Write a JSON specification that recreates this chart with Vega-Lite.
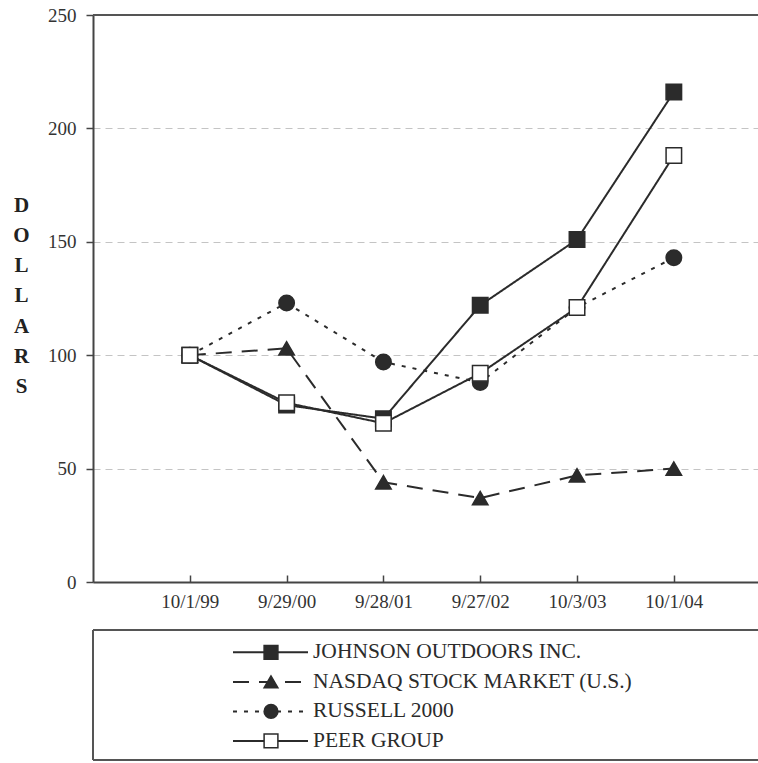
{
  "$schema": "https://vega.github.io/schema/vega-lite/v6.json",
  "padding": {"left": 12, "top": 6, "right": 0, "bottom": 0},
  "background": "white",
  "spacing": 17,
  "config": {"view": {"stroke": null}, "font": "Liberation Serif"},
  "datasets": {
    "returns": [
      {"series": "JOHNSON OUTDOORS INC.", "date": "10/1/99", "value": 100},
      {"series": "JOHNSON OUTDOORS INC.", "date": "9/29/00", "value": 78},
      {"series": "JOHNSON OUTDOORS INC.", "date": "9/28/01", "value": 72},
      {"series": "JOHNSON OUTDOORS INC.", "date": "9/27/02", "value": 122},
      {"series": "JOHNSON OUTDOORS INC.", "date": "10/3/03", "value": 151},
      {"series": "JOHNSON OUTDOORS INC.", "date": "10/1/04", "value": 216},
      {"series": "NASDAQ STOCK MARKET (U.S.)", "date": "10/1/99", "value": 100},
      {"series": "NASDAQ STOCK MARKET (U.S.)", "date": "9/29/00", "value": 103},
      {"series": "NASDAQ STOCK MARKET (U.S.)", "date": "9/28/01", "value": 44},
      {"series": "NASDAQ STOCK MARKET (U.S.)", "date": "9/27/02", "value": 37},
      {"series": "NASDAQ STOCK MARKET (U.S.)", "date": "10/3/03", "value": 47},
      {"series": "NASDAQ STOCK MARKET (U.S.)", "date": "10/1/04", "value": 50},
      {"series": "RUSSELL 2000", "date": "10/1/99", "value": 100},
      {"series": "RUSSELL 2000", "date": "9/29/00", "value": 123},
      {"series": "RUSSELL 2000", "date": "9/28/01", "value": 97},
      {"series": "RUSSELL 2000", "date": "9/27/02", "value": 88},
      {"series": "RUSSELL 2000", "date": "10/3/03", "value": 121},
      {"series": "RUSSELL 2000", "date": "10/1/04", "value": 143},
      {"series": "PEER GROUP", "date": "10/1/99", "value": 100},
      {"series": "PEER GROUP", "date": "9/29/00", "value": 79},
      {"series": "PEER GROUP", "date": "9/28/01", "value": 70},
      {"series": "PEER GROUP", "date": "9/27/02", "value": 92},
      {"series": "PEER GROUP", "date": "10/3/03", "value": 121},
      {"series": "PEER GROUP", "date": "10/1/04", "value": 188}
    ],
    "series": [
      {"series": "JOHNSON OUTDOORS INC."},
      {"series": "NASDAQ STOCK MARKET (U.S.)"},
      {"series": "RUSSELL 2000"},
      {"series": "PEER GROUP"}
    ]
  },
  "vconcat": [
    {
      "width": 666,
      "height": 567,
      "data": {"name": "returns"},
      "layer": [
        {
          "mark": {"type": "rule", "color": "#555555", "strokeWidth": 2},
          "encoding": {
            "y": {"datum": 250, "type": "quantitative", "scale": {"domain": [0, 250], "nice": false}}
          }
        },
        {
          "mark": {"type": "line", "color": "#2b2b2b", "strokeWidth": 2},
          "encoding": {
            "x": {
              "field": "date", "type": "ordinal", "sort": null,
              "scale": {"type": "point", "padding": 0.94, "align": 0.532},
              "axis": {
                "title": null, "labelAngle": 0, "labelFont": "Liberation Serif", "labelFontSize": 19,
                "labelColor": "#333333", "labelPadding": 17.5, "tickSize": -7, "tickColor": "#444444",
                "tickWidth": 1.5, "domainColor": "#444444", "domainWidth": 2, "grid": false
              }
            },
            "y": {
              "field": "value", "type": "quantitative",
              "scale": {"domain": [0, 250], "nice": false},
              "axis": {
                "values": [0, 50, 100, 150, 200, 250],
                "title": ["D", "O", "L", "L", "A", "R", "S"],
                "titleAngle": 0, "titleAlign": "center", "titleBaseline": "middle",
                "titleX": -72, "titleY": 190, "titleFont": "Liberation Serif", "titleFontSize": 21,
                "titleFontWeight": "bold", "titleLineHeight": 30.3, "titleColor": "#222222",
                "labelFont": "Liberation Serif", "labelFontSize": 19, "labelColor": "#333333",
                "labelPadding": 10, "tickSize": 7, "tickColor": "#444444", "tickWidth": 1.5,
                "domainColor": "#444444", "domainWidth": 2,
                "grid": true, "gridDash": [7, 5], "gridColor": "#c4c4c4", "gridWidth": 1
              }
            },
            "strokeDash": {
              "field": "series", "type": "nominal",
              "scale": {
                "domain": ["JOHNSON OUTDOORS INC.", "NASDAQ STOCK MARKET (U.S.)", "RUSSELL 2000", "PEER GROUP"],
                "range": [[1, 0], [16, 10], [4, 7], [1, 0]]
              },
              "legend": null
            }
          }
        },
        {
          "mark": {"type": "point", "filled": true, "stroke": "#2b2b2b", "strokeWidth": 1.5, "opacity": 1, "size": 240},
          "encoding": {
            "x": {"field": "date", "type": "ordinal", "sort": null},
            "y": {"field": "value", "type": "quantitative"},
            "shape": {
              "field": "series", "type": "nominal",
              "scale": {
                "domain": ["JOHNSON OUTDOORS INC.", "NASDAQ STOCK MARKET (U.S.)", "RUSSELL 2000", "PEER GROUP"],
                "range": ["square", "triangle-up", "circle", "square"]
              },
              "legend": null
            },
            "fill": {
              "field": "series", "type": "nominal",
              "scale": {
                "domain": ["JOHNSON OUTDOORS INC.", "NASDAQ STOCK MARKET (U.S.)", "RUSSELL 2000", "PEER GROUP"],
                "range": ["#2b2b2b", "#2b2b2b", "#2b2b2b", "#ffffff"]
              },
              "legend": null
            }
          }
        }
      ]
    },
    {
      "width": 666,
      "height": 130,
      "data": {"name": "series"},
      "layer": [
        {
          "mark": {"type": "rule", "color": "#555555", "strokeWidth": 2},
          "encoding": {"y": {"datum": 0, "type": "quantitative", "scale": {"domain": [0, 1], "nice": false}, "axis": null}}
        },
        {
          "mark": {"type": "rule", "color": "#555555", "strokeWidth": 2},
          "encoding": {"y": {"datum": 1, "type": "quantitative", "scale": {"domain": [0, 1], "nice": false}, "axis": null}}
        },
        {
          "mark": {"type": "rule", "color": "#555555", "strokeWidth": 2},
          "encoding": {"x": {"datum": 0, "type": "quantitative", "scale": {"domain": [0, 666], "nice": false, "zero": false}, "axis": null}}
        },
        {
          "mark": {"type": "rule", "color": "#2b2b2b", "strokeWidth": 2},
          "encoding": {
            "x": {"datum": 140, "type": "quantitative"},
            "x2": {"datum": 215},
            "y": {"field": "series", "type": "nominal", "sort": null, "scale": {"type": "point", "padding": 0.7, "align": 0.54}, "axis": null},
            "strokeDash": {
              "field": "series", "type": "nominal",
              "scale": {
                "domain": ["JOHNSON OUTDOORS INC.", "NASDAQ STOCK MARKET (U.S.)", "RUSSELL 2000", "PEER GROUP"],
                "range": [[1, 0], [16, 10], [4, 7], [1, 0]]
              },
              "legend": null
            }
          }
        },
        {
          "mark": {"type": "point", "filled": true, "stroke": "#2b2b2b", "strokeWidth": 1.5, "opacity": 1, "size": 190},
          "encoding": {
            "x": {"datum": 178, "type": "quantitative"},
            "y": {"field": "series", "type": "nominal", "sort": null, "scale": {"type": "point", "padding": 0.7, "align": 0.54}, "axis": null},
            "shape": {
              "field": "series", "type": "nominal",
              "scale": {
                "domain": ["JOHNSON OUTDOORS INC.", "NASDAQ STOCK MARKET (U.S.)", "RUSSELL 2000", "PEER GROUP"],
                "range": ["square", "triangle-up", "circle", "square"]
              },
              "legend": null
            },
            "fill": {
              "field": "series", "type": "nominal",
              "scale": {
                "domain": ["JOHNSON OUTDOORS INC.", "NASDAQ STOCK MARKET (U.S.)", "RUSSELL 2000", "PEER GROUP"],
                "range": ["#2b2b2b", "#2b2b2b", "#2b2b2b", "#ffffff"]
              },
              "legend": null
            }
          }
        },
        {
          "mark": {"type": "text", "align": "left", "baseline": "middle", "font": "Liberation Serif", "fontSize": 21.5, "color": "#2b2b2b"},
          "encoding": {
            "x": {"datum": 220, "type": "quantitative"},
            "y": {"field": "series", "type": "nominal", "sort": null, "scale": {"type": "point", "padding": 0.7, "align": 0.54}, "axis": null},
            "text": {"field": "series"}
          }
        }
      ],
      "resolve": {"scale": {"y": "independent"}}
    }
  ]
}
